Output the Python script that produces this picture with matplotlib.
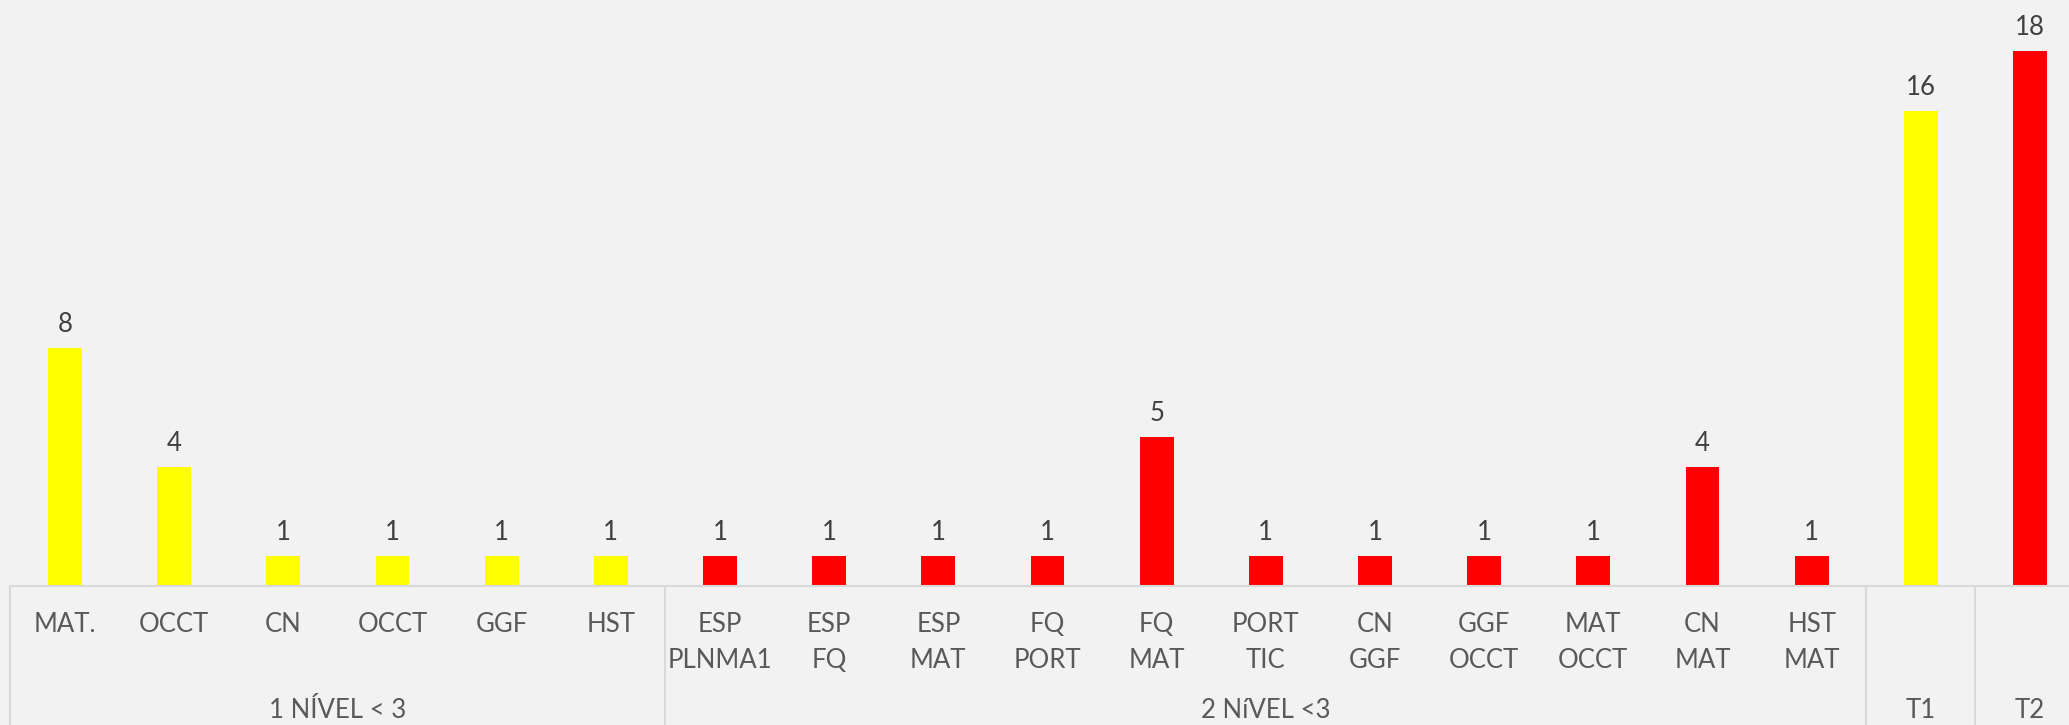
import matplotlib.pyplot as plt
import matplotlib.transforms as mtransforms

plt.rcParams['font.family'] = ['Lato', 'DejaVu Sans']

cats = ['MAT.', 'OCCT', 'CN', 'OCCT', 'GGF', 'HST',
        'ESP\nPLNMA1', 'ESP\nFQ', 'ESP\nMAT', 'FQ\nPORT', 'FQ\nMAT', 'PORT\nTIC',
        'CN\nGGF', 'GGF\nOCCT', 'MAT\nOCCT', 'CN\nMAT', 'HST\nMAT',
        '', '']
vals = [8, 4, 1, 1, 1, 1,
        1, 1, 1, 1, 5, 1, 1, 1, 1, 4, 1,
        16, 18]
cols = ['#FFFF00'] * 6 + ['#FF0000'] * 11 + ['#FFFF00', '#FF0000']

groups = ['1 NÍVEL < 3', '2 NíVEL <3', 'T1', 'T2']
group_sizes = [6, 11, 1, 1]

bg = '#F2F2F2'
W, H = 2069, 725
fig = plt.figure(figsize=(W / 100, H / 100), dpi=100, facecolor=bg)

# axes runs a bit past the right edge, like the cropped original
ppu = 29.7
ymax = 19.8
ax = fig.add_axes((10.4 / W, (H - 586) / H, 2074.2 / W, ymax * ppu / H))
ax.set_facecolor(bg)

xs = list(range(len(vals)))
bars = ax.bar(xs, vals, width=0.31, color=cols, zorder=2)
ax.bar_label(bars, labels=[str(v) for v in vals], padding=8,
             fontsize=18.5, color='#404040')

ax.set_xlim(-0.5, len(vals) - 0.5)
ax.set_ylim(0, ymax)
ax.set_xticks(xs)
ax.set_xticklabels(cats, fontsize=18.5, color='#595959', linespacing=1.55)
ax.tick_params(axis='x', length=0, pad=19)
ax.set_yticks([])
for s in ['top', 'left', 'right']:
    ax.spines[s].set_visible(False)
ax.spines['bottom'].set_color('#D9D9D9')
ax.spines['bottom'].set_linewidth(1.5)

trans = mtransforms.blended_transform_factory(ax.transData, ax.transAxes)
below = -139 / (ymax * ppu)
edge = -0.5
for g, n in zip(groups, group_sizes):
    ax.plot([edge, edge], [0, below - 0.05], color='#D9D9D9', lw=1.5,
            transform=trans, clip_on=False)
    mid = edge + n / 2
    ax.text(mid, -124 / (ymax * ppu), g, transform=trans, ha='center', va='center',
            fontsize=18.5, color='#595959')
    edge += n
ax.plot([edge, edge], [0, below - 0.05], color='#D9D9D9', lw=1.5,
        transform=trans, clip_on=False)

fig.savefig('out.png', dpi=100, facecolor=bg)
